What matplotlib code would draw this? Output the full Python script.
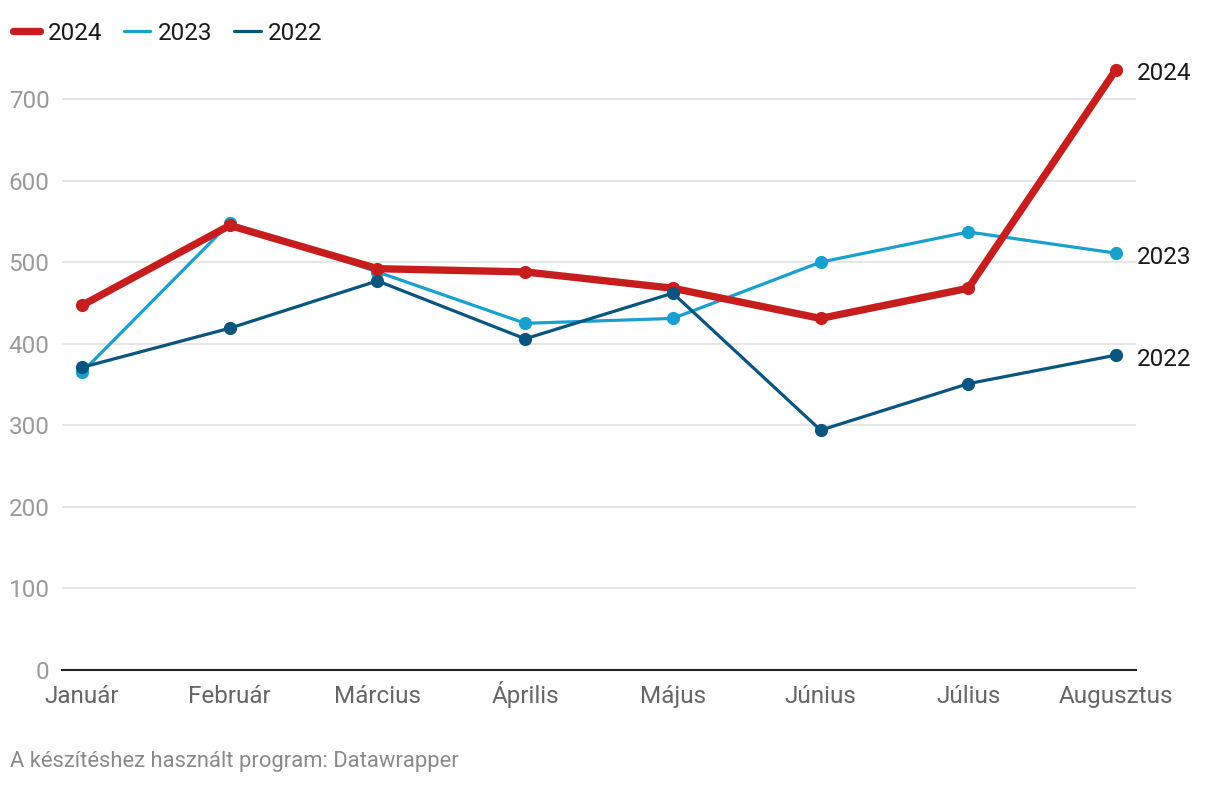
import matplotlib
matplotlib.use("Agg")
import matplotlib.pyplot as plt
from matplotlib.lines import Line2D

plt.rcParams['font.family'] = ['Roboto', 'DejaVu Sans']

months = ["Január", "Február", "Március", "Április", "Május", "Június", "Július", "Augusztus"]
v2024 = [447, 545, 492, 488, 468, 431, 468, 736]
v2023 = [365, 548, 488, 425, 431, 500, 537, 511]
v2022 = [371, 419, 477, 406, 462, 294, 351, 386]
yticks = [0, 100, 200, 300, 400, 500, 600, 700]

c24, c23, c22 = "#c71e1d", "#18a1cd", "#09557f"

fig = plt.figure(figsize=(12.2, 7.86), dpi=100)
ax = fig.add_axes([62/1220, 1-670/786, (1136-62)/1220, (670-60)/786])
x = list(range(len(months)))

ax.plot(x, v2023, color=c23, lw=2.3, marker="o", ms=8.5, zorder=3, solid_capstyle="round")
ax.plot(x, v2024, color=c24, lw=5.3, marker="o", ms=8.5, zorder=4, solid_capstyle="round", solid_joinstyle="round")
ax.plot(x, v2022, color=c22, lw=2.3, marker="o", ms=8.5, zorder=5, solid_capstyle="round")

ax.set_xlim(-20/147.7, 7 + 20/147.7)
ax.set_ylim(0, (670-60)/(571/700))
ax.set_yticks(yticks)
ax.set_yticklabels([str(t) for t in yticks])
ax.set_xticks(x)
ax.set_xticklabels(months, va="baseline")
ax.grid(axis="y", color="#e2e2e2", lw=1.2, zorder=0)
for s in ["top", "right", "left"]:
    ax.spines[s].set_visible(False)
ax.spines["bottom"].set_color("#222222")
ax.spines["bottom"].set_linewidth(1.5)
ax.spines["bottom"].set_zorder(2)
ax.tick_params(axis="y", length=0, pad=9, labelsize=17.5, labelcolor="#9a9a9a")
ax.tick_params(axis="x", length=0, pad=24, labelsize=17.5, labelcolor="#666666")

for vals, lab in [(v2024, "2024"), (v2023, "2023"), (v2022, "2022")]:
    ax.annotate(lab, xy=(x[-1], vals[-1]), xytext=(15, -3), textcoords="offset points",
                va="center", ha="left", fontsize=17.5, color="#1a1a1a", annotation_clip=False)

handles = [Line2D([], [], color=c24, lw=5.3, solid_capstyle="round"),
           Line2D([], [], color=c23, lw=2.3, solid_capstyle="round"),
           Line2D([], [], color=c22, lw=2.3, solid_capstyle="round")]
fig.legend(handles, ["2024", "2023", "2022"], loc="upper left", bbox_to_anchor=(-0.003, 0.994),
           ncol=3, frameon=False, fontsize=17.5, handlelength=1.1, handletextpad=0.3,
           columnspacing=0.9, labelcolor="#1a1a1a", borderaxespad=0.3)

fig.text(10/1220, 1-762/786, "A készítéshez használt program: Datawrapper", fontsize=15.8,
         color="#8a8a8a", va="center", ha="left")

fig.savefig("out.png", dpi=100)
